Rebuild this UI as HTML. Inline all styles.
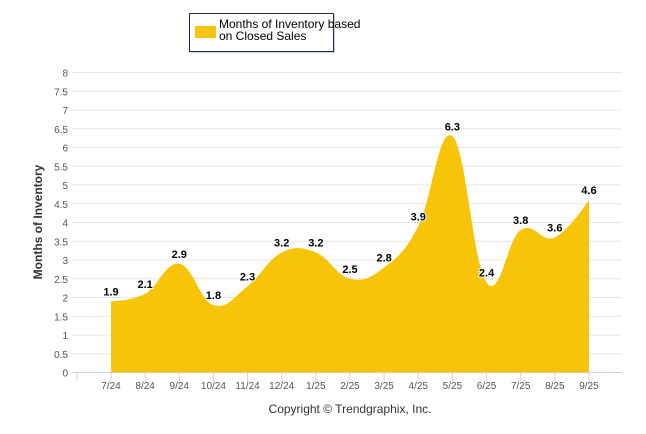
<!DOCTYPE html>
<html><head><meta charset="utf-8"><style>
body{margin:0;background:#fff;font-family:"Liberation Sans",sans-serif}
svg{display:block}
</style></head><body>
<svg id="c" width="646" height="434">
<g>
<rect x="191" y="15" width="144" height="38" fill="#999" opacity="0.5"/>
<rect x="189.5" y="13.5" width="144" height="38" fill="#fff" stroke="#1f2d4d" stroke-width="1"/>
<rect x="195" y="26" width="21" height="12" fill="#f7c408"/>
<text x="219" y="28" font-size="12" fill="#000"><tspan x="219">Months of Inventory based</tspan><tspan x="219" dy="12">on Closed Sales</tspan></text>
</g>
<g id="grid"></g><g id="area"></g><g id="labels"></g>
<text transform="translate(42,222) rotate(-90)" text-anchor="middle" font-size="12" font-weight="bold" fill="#333">Months of Inventory</text>
<text x="350" y="413" text-anchor="middle" font-size="12" fill="#333">Copyright © Trendgraphix, Inc.</text>
</svg>
<script>
const categories=["7/24","8/24","9/24","10/24","11/24","12/24","1/25","2/25","3/25","4/25","5/25","6/25","7/25","8/25","9/25"];
const values=[1.9,2.1,2.9,1.8,2.3,3.2,3.2,2.5,2.8,3.9,6.3,2.4,3.8,3.6,4.6];
const yTicks=[0,0.5,1,1.5,2,2.5,3,3.5,4,4.5,5,5.5,6,6.5,7,7.5,8];
const NS="http://www.w3.org/2000/svg";
const x0=111,dx=34.14,yBase=372.5,yTop=72.5,yMax=8;
const X=i=>x0+i*dx, Y=v=>yBase-(v/yMax)*(yBase-yTop);
function mk(t,a,p){const e=document.createElementNS(NS,t);for(const k in a)e.setAttribute(k,a[k]);p.appendChild(e);return e;}
const grid=document.getElementById('grid');
yTicks.forEach(v=>{
 const l=mk('line',{x1:72,x2:622,y1:Y(v),y2:Y(v),stroke:v===0?'#ccd6eb':'#e6e6e6','stroke-width':1},grid);
 
 
 const t=mk('text',{x:68,y:Y(v)+4,'text-anchor':'end','font-size':10,fill:'#555'},grid);
 t.textContent=v;
 
 
});
for(let i=-1;i<categories.length;i++){
 const tk=mk('line',{x1:X(i),x2:X(i),y1:372.5,y2:381,stroke:'#ccd6eb'},grid);
 
 
}
categories.forEach((c,i)=>{
 const t=mk('text',{x:X(i),y:389,'text-anchor':'middle','font-size':10,fill:'#555'},grid);
 t.textContent=c;
 
 
});
const pts=values.map((v,i)=>[X(i),Y(v)]);
function cont(i){
 const s=1.5,d=2.5,[px,py]=pts[i],[lx,ly]=pts[i-1],[nx,ny]=pts[i+1];
 let lcx=(s*px+lx)/d,lcy=(s*py+ly)/d,rcx=(s*px+nx)/d,rcy=(s*py+ny)/d;
 const corr=((rcy-lcy)*(rcx-px))/(rcx-lcx)+py-rcy;lcy+=corr;rcy+=corr;
 return {l:[lcx,lcy],r:[rcx,rcy]};
}
const n=pts.length,cs=[];
for(let i=1;i<n-1;i++)cs[i]=cont(i);
let d=`M${pts[0][0]},${yBase} L${pts[0][0]},${pts[0][1]}`;
for(let i=1;i<n;i++){
 const c1=i-1>0?cs[i-1].r:pts[i-1],c2=i<n-1?cs[i].l:pts[i];
 d+=` C${c1[0]},${c1[1]} ${c2[0]},${c2[1]} ${pts[i][0]},${pts[i][1]}`;
}
d+=` L${pts[n-1][0]},${yBase} Z`;
const a=mk('path',{d:d,fill:'#f7c408'},document.getElementById('area'));


const lg=document.getElementById('labels');
values.forEach((v,i)=>{
 const t=mk('text',{x:X(i),y:Y(v)-6,'text-anchor':'middle','font-size':11,'font-weight':'bold',fill:'#000',stroke:'#fff','stroke-width':2,'paint-order':'stroke'},lg);
 t.textContent=v;
 
 
});
</script>
</body></html>
